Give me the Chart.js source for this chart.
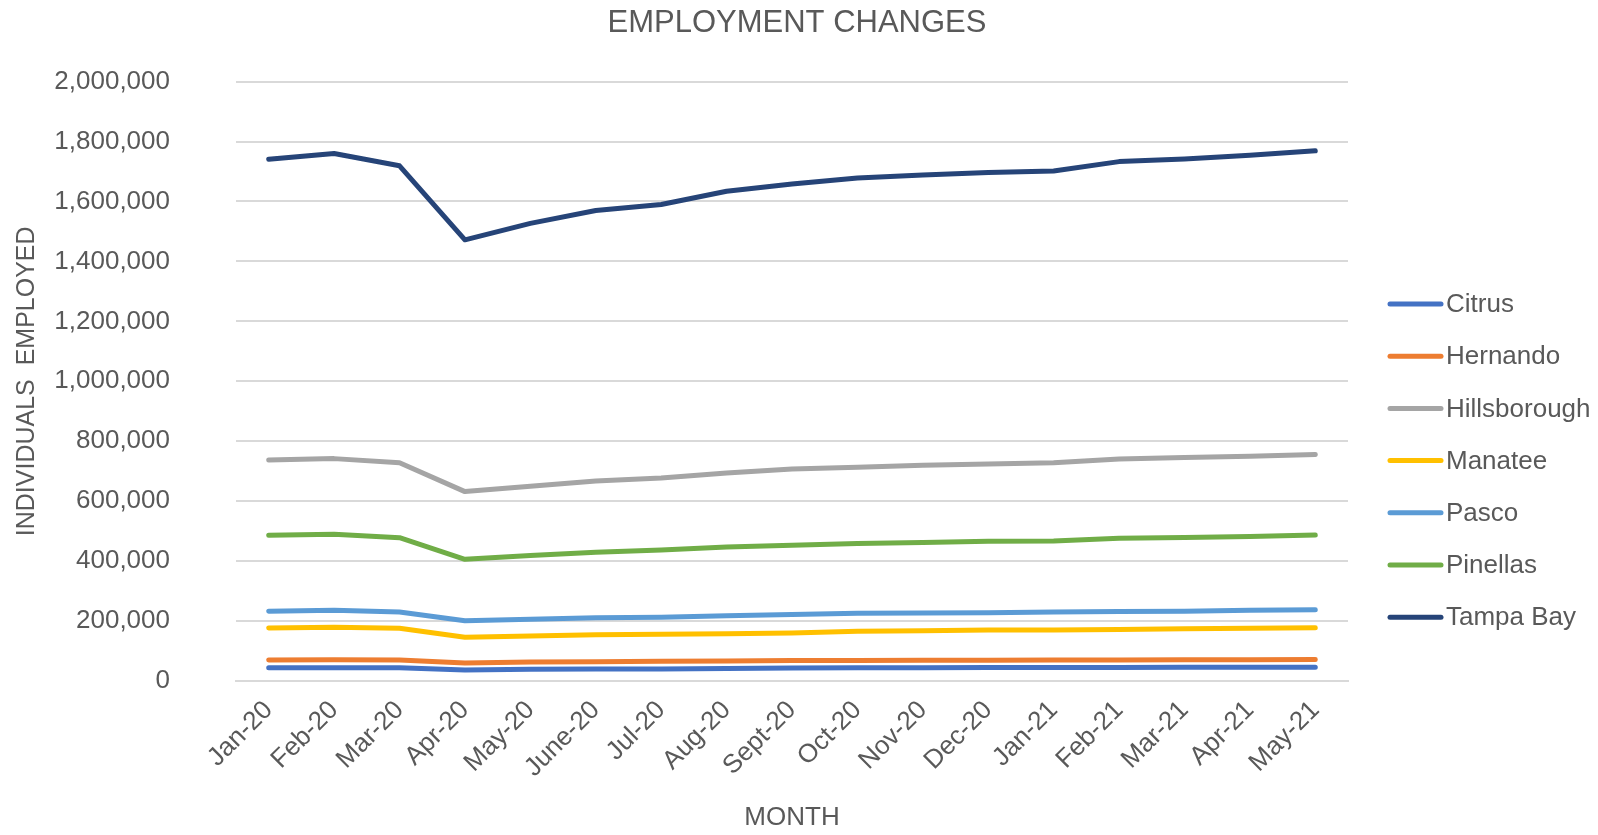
<!DOCTYPE html>
<html>
<head>
<meta charset="utf-8">
<script src="https://cdn.jsdelivr.net/npm/chart.js@4.4.1/dist/chart.umd.min.js"></script>
<style>
  html, body { margin:0; padding:0; background:#fff; }
  #wrap { width:1598px; height:835px; position:relative; }
</style>
</head>
<body>
<div id="wrap"><canvas id="chart" width="1598" height="835"></canvas></div>
<script>
// ─── Data ────────────────────────────────────────────────────────────────────
const months = ['Jan-20','Feb-20','Mar-20','Apr-20','May-20','June-20','Jul-20','Aug-20','Sept-20',
                'Oct-20','Nov-20','Dec-20','Jan-21','Feb-21','Mar-21','Apr-21','May-21'];

const citrus       = [44000,44000,44000,37000,39000,40000,40000,42000,43000,44000,44000,45000,45000,45000,46000,46000,46000];
const hernando     = [70000,71000,70000,60000,63000,64000,66000,67000,68000,68000,69000,69000,70000,70000,71000,71000,72000];
const hillsborough = [737000,742000,728000,632000,650000,667000,677000,694000,707000,713000,720000,724000,728000,741000,746000,750000,756000];
const manatee      = [177000,179000,176000,146000,150000,154000,156000,158000,160000,166000,168000,170000,170000,172000,174000,176000,178000];
const pasco        = [233000,236000,230000,201000,206000,211000,213000,218000,222000,226000,227000,228000,230000,232000,233000,236000,238000];
const pinellas     = [486000,490000,478000,406000,419000,430000,437000,447000,453000,459000,462000,466000,467000,476000,479000,482000,487000];
const tampaBay     = [1741000,1760000,1719000,1472000,1527000,1570000,1590000,1634000,1658000,1678000,1688000,1697000,1702000,1733000,1742000,1754000,1769000];

const seriesNames = ['Citrus','Hernando','Hillsborough','Manatee','Pasco','Pinellas','Tampa Bay'];
const seriesData  = [citrus, hernando, hillsborough, manatee, pasco, pinellas, tampaBay];
const yTicks      = [0,200000,400000,600000,800000,1000000,1200000,1400000,1600000,1800000,2000000];

// ─── Style tokens ────────────────────────────────────────────────────────────
const COLORS = ['#4472C4','#ED7D31','#A5A5A5','#FFC000','#5B9BD5','#70AD47','#264478'];
const TEXT   = '#595959';
const GRID   = '#D9D9D9';
const FONT   = "'Liberation Sans', Arial, sans-serif";

// narrow face for tick / legend text if the machine has one
function hasFont(name) {
  const c = document.createElement('canvas').getContext('2d');
  c.font = '40px monospace';
  const base = c.measureText('Hillsborough 2,000,000').width;
  c.font = `40px '${name}', monospace`;
  return c.measureText('Hillsborough 2,000,000').width !== base;
}
const narrowName = ['Liberation Sans Narrow', 'Arial Narrow'].find(hasFont);
const NARROW   = narrowName ? `'${narrowName}', ${FONT}` : FONT;
const TICK_PX  = narrowName ? 31 : 26;

Chart.defaults.font.family = FONT;
Chart.defaults.color = TEXT;

const fmtNum = v => v.toLocaleString('en-US');

// title + legend drawn on the canvas
const extras = {
  id: 'extras',
  afterDraw(chart) {
    const c = chart.ctx;
    c.save();
    c.fillStyle = TEXT;
    c.font = `31px ${FONT}`;
    c.textAlign = 'center';
    c.textBaseline = 'middle';
    c.fillText('EMPLOYMENT CHANGES', 797, 23);

    c.font = `${TICK_PX}px ${NARROW}`;
    c.textAlign = 'left';
    chart.data.datasets.forEach((ds, i) => {
      const y = 304 + i * 52.2;
      c.strokeStyle = ds.borderColor;
      c.lineWidth = 5;
      c.lineCap = 'round';
      c.beginPath(); c.moveTo(1390, y); c.lineTo(1441, y); c.stroke();
      c.fillStyle = TEXT;
      c.fillText(ds.label, 1446, y + 1);
    });
    c.restore();
  }
};

new Chart(document.getElementById('chart'), {
  type: 'line',
  data: {
    labels: months,
    datasets: seriesNames.map((name, i) => ({
      label: name, data: seriesData[i],
      borderColor: COLORS[i], backgroundColor: COLORS[i],
      borderWidth: 5, pointRadius: 0, tension: 0,
      borderCapStyle: 'round', borderJoinStyle: 'round',
      order: seriesNames.length - i,
    }))
  },
  options: {
    responsive: false, animation: false,
    layout: { padding: { top: 80, right: 250, left: 0, bottom: 0 } },
    plugins: { legend: { display: false }, title: { display: false }, tooltip: { enabled: false } },
    scales: {
      x: {
        offset: true,
        grid: { display: false, drawTicks: false },
        border: { display: true, color: GRID, width: 2 },
        ticks: { autoSkip: false, maxRotation: 45, minRotation: 45, padding: 14,
                 font: { size: TICK_PX, family: NARROW }, color: TEXT },
        title: { display: true, text: 'MONTH', font: { size: TICK_PX, family: NARROW }, color: TEXT, padding: { top: 0, bottom: 2 } },
        afterFit: s => { s.height = 154; }
      },
      y: {
        min: 0, max: 2000000,
        afterBuildTicks: s => { s.ticks = yTicks.map(v => ({ value: v })); },
        grid: { color: GRID, lineWidth: 2, drawTicks: false },
        border: { display: false },
        ticks: { padding: 66, font: { size: TICK_PX, family: NARROW }, color: TEXT, callback: v => fmtNum(v) },
        title: { display: true, text: 'INDIVIDUALS  EMPLOYED', font: { size: 25 }, color: TEXT, padding: { top: 12, bottom: 0 } },
        afterFit: s => { s.width = 236; }
      }
    }
  },
  plugins: [extras]
});
</script>
</body>
</html>
